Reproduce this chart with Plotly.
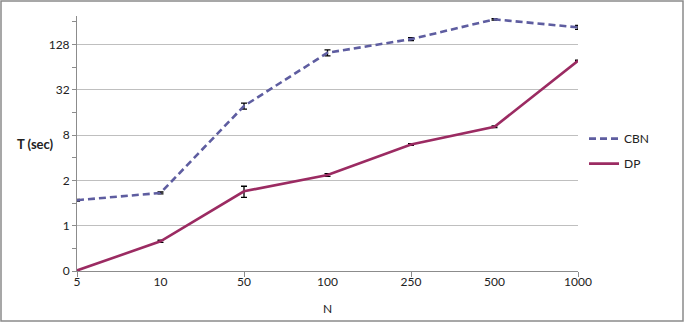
import math
import plotly.graph_objects as go

categories = ["5", "10", "50", "100", "250", "500", "1000"]
cbn_values = [1.09, 1.36, 19.4, 98.9, 150, 275, 215]
cbn_errors = [0.03, 0.04, 1.8, 9.0, 7.0, 6.0, 13.0]
dp_values = [0.127, 0.31, 1.43, 2.36, 5.99, 10.3, 77.5]
dp_errors = [0.003, 0.01, 0.24, 0.1, 0.15, 0.25, 1.5]
y_tickvals = [0.125, 0.5, 2, 8, 32, 128]
y_ticktext = ["0", "1", "2", "8", "32", "128"]
y_minorvals = [0.25, 1, 4, 16, 64, 256]

idx = list(range(len(categories)))

W, H = 684, 322
ml, mr, mt, mb = 77, 106, 16, 51
pw, ph = W - ml - mr, H - mt - mb

FONT = "Lato"
GRID = "#BFBFBF"
AX = "#8C8C8C"

fig = go.Figure()
fig.add_trace(go.Scatter(
    x=idx, y=cbn_values, name="CBN", mode="lines", legendgroup="a",
    line=dict(color="#5E5DA0", width=2.6, dash="7px,4px"),
    error_y=dict(type="data", array=cbn_errors, color="black", thickness=1.3, width=3),
))
fig.add_trace(go.Scatter(
    x=idx, y=dp_values, name="DP", mode="lines", legendgroup="b",
    line=dict(color="#9B2B62", width=2.6),
    error_y=dict(type="data", array=dp_errors, color="black", thickness=1.3, width=3),
))

ymin = math.log10(0.125)
ymax = ymin + 5.625 * math.log10(4)

fig.update_layout(
    width=W, height=H,
    margin=dict(l=ml, r=mr, t=mt, b=mb, autoexpand=False),
    paper_bgcolor="white", plot_bgcolor="white",
    font=dict(family=FONT, size=12, color="#222"),
    showlegend=True,
    legend=dict(x=1.012, y=0.47, xanchor="left", yanchor="middle",
                tracegroupgap=6, font=dict(family=FONT, size=12),
                bgcolor="rgba(0,0,0,0)"),
    xaxis=dict(
        range=[0, len(categories) - 1], tickmode="array", tickvals=idx, ticktext=categories,
        showgrid=False, zeroline=False, showline=True, linecolor=AX, linewidth=1,
        ticks="", ticklen=0, automargin=False,
        minor=dict(tickmode="array", tickvals=idx[::2], ticks="outside", ticklen=5,
                   tickcolor=AX, showgrid=False),
        tickfont=dict(family=FONT, size=12),
    ),
    yaxis=dict(
        type="log", range=[ymin, ymax], tickmode="array", tickvals=y_tickvals, ticktext=y_ticktext,
        showgrid=True, gridcolor=GRID, gridwidth=1, zeroline=False,
        showline=True, linecolor=AX, linewidth=1, automargin=False,
        ticks="outside", ticklen=4, tickcolor=AX,
        minor=dict(tickmode="array", tickvals=y_minorvals, ticks="outside", ticklen=4,
                   tickcolor=AX, showgrid=False),
        tickfont=dict(family=FONT, size=12),
    ),
    annotations=[
        dict(text="<b>T (sec)</b>", xref="paper", yref="paper",
             x=-42 / pw, y=0.5, xanchor="center", yanchor="middle",
             showarrow=False, font=dict(family=FONT, size=13)),
        dict(text="N", xref="paper", yref="paper",
             x=0.5, y=-37 / ph, xanchor="center", yanchor="middle",
             showarrow=False, font=dict(family=FONT, size=12)),
    ],
    shapes=[dict(
        type="rect", xref="paper", yref="paper", layer="above",
        x0=-(ml - 1) / pw, x1=1 + (mr - 1) / pw,
        y0=-(mb - 1) / ph, y1=1 + (mt - 1) / ph,
        line=dict(color="#8A8A8A", width=1.5), fillcolor="rgba(0,0,0,0)",
    )],
)

fig.write_html("out.html", config={"displayModeBar": False},
               post_script="document.body.style.margin='0';")
